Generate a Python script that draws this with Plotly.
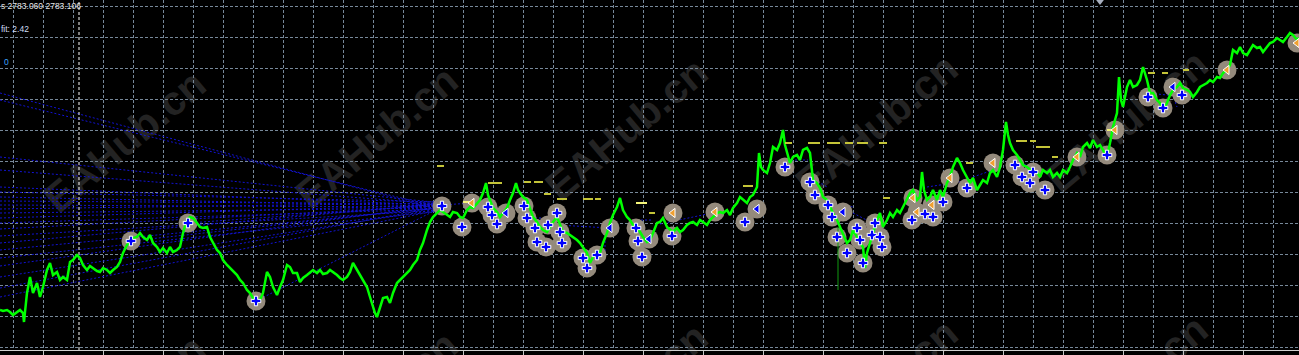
import plotly.graph_objects as go

# ---------------- data (bar index, price level in points above chart floor) ----------------
price_bar = [
    0, 3, 7, 10, 13, 17, 20, 23, 24, 25,
    27, 30, 33, 37, 40, 43, 47, 50, 53, 57,
    60, 63, 67, 70, 73, 77, 80, 83, 87, 90,
    93, 97, 100, 103, 107, 110, 113, 117, 120, 123,
    127, 130, 133, 137, 140, 143, 147, 150, 153, 157,
    160, 163, 167, 170, 173, 177, 180, 183, 187, 190,
    193, 197, 200, 203, 207, 210, 213, 217, 220, 223,
    227, 230, 233, 237, 240, 243, 247, 250, 253, 257,
    260, 263, 267, 270, 273, 277, 280, 283, 287, 290,
    293, 297, 300, 303, 307, 310, 313, 317, 320, 323,
    327, 330, 333, 337, 340, 343, 347, 350, 353, 357,
    360, 363, 367, 370, 373, 375, 377, 380, 383, 387,
    390, 393, 397, 400, 403, 407, 410, 413, 417, 420,
    423, 427, 430, 433, 437, 440, 443, 447, 450, 453,
    457, 460, 463, 467, 470, 473, 477, 480, 483, 486,
    488, 490, 493, 497, 500, 503, 507, 510, 513, 516,
    518, 520, 523, 527, 530, 533, 537, 540, 543, 547,
    550, 553, 557, 560, 563, 567, 570, 573, 577, 580,
    583, 587, 590, 593, 597, 600, 603, 607, 610, 613,
    617, 620, 623, 627, 630, 633, 637, 640, 643, 647,
    650, 653, 657, 660, 663, 667, 670, 673, 677, 680,
    683, 687, 690, 693, 697, 700, 703, 707, 710, 713,
    717, 720, 723, 727, 730, 733, 737, 740, 743, 747,
    750, 753, 757, 759, 761, 763, 767, 770, 773, 777,
    780, 783, 785, 787, 790, 793, 797, 800, 803, 807,
    810, 813, 817, 820, 823, 827, 830, 833, 837, 840,
    843, 847, 850, 853, 857, 860, 863, 865, 867, 870,
    873, 877, 880, 883, 887, 890, 893, 897, 900, 903,
    907, 910, 913, 917, 920, 922, 924, 927, 930, 933,
    937, 940, 943, 947, 950, 953, 957, 960, 963, 967,
    970, 973, 977, 980, 983, 987, 990, 993, 997, 1000,
    1003, 1006, 1008, 1010, 1013, 1017, 1020, 1023, 1027, 1030,
    1033, 1037, 1040, 1043, 1047, 1050, 1053, 1057, 1060, 1063,
    1067, 1070, 1073, 1077, 1080, 1083, 1087, 1090, 1093, 1097,
    1100, 1103, 1107, 1110, 1113, 1117, 1119, 1121, 1123, 1127,
    1130, 1133, 1137, 1140, 1143, 1147, 1150, 1153, 1157, 1160,
    1163, 1167, 1170, 1173, 1177, 1180, 1183, 1187, 1190, 1193,
    1197, 1200, 1203, 1207, 1210, 1213, 1217, 1220, 1223, 1227,
    1230, 1233, 1237, 1240, 1243, 1247, 1250, 1253, 1257, 1260,
    1263, 1267, 1270, 1273, 1277, 1280, 1283, 1287, 1290, 1293,
    1297, 1299,
]
price_level = [
    40, 39, 40, 38, 35, 38, 40, 37, 28, 38,
    57, 73, 57, 67, 53, 63, 80, 87, 75, 78,
    70, 73, 70, 88, 90, 95, 92, 85, 80, 84,
    82, 79, 78, 82, 80, 77, 80, 83, 88, 97,
    105, 108, 112, 113, 117, 113, 110, 115, 107, 103,
    98, 102, 97, 103, 98, 100, 103, 117, 130, 133,
    132, 127, 123, 122, 123, 113, 107, 100, 97, 90,
    85, 82, 78, 75, 70, 67, 60, 57, 52, 48,
    50, 57, 78, 73, 63, 55, 63, 70, 85, 83,
    77, 77, 68, 72, 75, 78, 80, 77, 80, 76,
    77, 80, 78, 75, 72, 70, 73, 78, 87, 80,
    75, 70, 63, 53, 43, 37, 33, 43, 52, 53,
    47, 57, 67, 70, 73, 77, 80, 85, 90, 100,
    107, 120, 128, 133, 137, 140, 138, 135, 133, 138,
    137, 133, 132, 140, 143, 142, 147, 150, 157, 167,
    155, 150, 142, 138, 133, 137, 142, 150, 157, 167,
    160, 157, 153, 150, 142, 133, 128, 123, 120, 118,
    123, 128, 133, 125, 118, 117, 115, 113, 110, 107,
    103, 97, 87, 93, 98, 97, 107, 117, 127, 135,
    143, 152, 140, 133, 130, 125, 123, 118, 113, 108,
    110, 117, 127, 128, 132, 123, 120, 118, 122, 118,
    120, 125, 127, 128, 125, 130, 128, 125, 130, 133,
    137, 138, 137, 140, 135, 142, 147, 153, 150, 147,
    153, 155, 163, 197, 183, 180, 177, 187, 203, 200,
    207, 220, 205, 197, 187, 193, 195, 190, 200, 202,
    197, 170, 167, 162, 153, 150, 143, 137, 130, 123,
    117, 107, 110, 120, 113, 107, 103, 82, 97, 107,
    117, 130, 137, 123, 130, 137, 133, 140, 137, 143,
    150, 157, 160, 150, 153, 178, 160, 150, 153, 160,
    150, 160, 153, 167, 173, 183, 192, 187, 180, 173,
    167, 172, 160, 165, 170, 167, 177, 180, 173, 183,
    200, 228, 215, 207, 200, 195, 190, 185, 183, 180,
    178, 178, 173, 180, 177, 180, 173, 177, 173, 180,
    177, 183, 190, 197, 193, 203, 207, 202, 210, 203,
    205, 200, 193, 207, 223, 237, 273, 250, 243, 263,
    270, 263, 265, 270, 283, 270, 257, 257, 250, 247,
    240, 247, 255, 260, 263, 267, 262, 260, 258, 253,
    258, 263, 265, 267, 270, 268, 273, 272, 277, 280,
    285, 300, 297, 303, 297, 295, 300, 305, 302, 303,
    298, 303, 307, 308, 312, 310, 308, 313, 317, 315,
    310, 312,
]

# trade markers: b = buy arrow, l = left arrow, c = close (orange)
trade_bar = [131, 188, 256, 442, 472, 462, 488, 492, 497, 506, 524, 527, 535, 537, 546, 548,
             557, 560, 562, 583, 587, 597, 610, 636, 638, 649, 642, 673, 672, 715, 745, 757,
             785, 810, 815, 828, 832, 843, 837, 847, 857, 860, 863, 875, 872, 880, 882, 913,
             917, 912, 925, 933, 932, 943, 950, 967, 993, 1015, 1022, 1033, 1030, 1045, 1077,
             1107, 1115, 1148, 1163, 1173, 1182, 1227, 1297]
trade_level = [109, 127, 49, 144, 147, 123, 143, 135, 126, 137, 144, 132, 122, 108, 103, 125,
               137, 118, 107, 92, 82, 95, 122, 122, 109, 111, 93, 137, 114, 138, 128, 141,
               183, 168, 155, 145, 133, 138, 113, 97, 122, 110, 87, 127, 115, 113, 103, 152,
               138, 130, 136, 133, 145, 148, 172, 162, 187, 185, 173, 178, 167, 160, 193,
               195, 220, 253, 242, 263, 255, 280, 307]
trade_kind = ["b", "b", "b", "b", "c", "b", "b", "b", "b", "l", "b", "b", "b", "b", "b", "b",
              "b", "b", "b", "b", "b", "b", "l", "b", "b", "l", "b", "c", "b", "c", "b", "l",
              "b", "b", "b", "b", "b", "l", "b", "b", "b", "b", "b", "b", "b", "b", "b", "c",
              "c", "b", "b", "b", "c", "b", "c", "b", "c", "b", "b", "b", "b", "b", "c",
              "b", "c", "b", "b", "l", "b", "c", "c"]

# short level dashes (start bar, end bar, level)
dash_start = [437, 488, 524, 534, 544, 557, 583, 595, 649, 743, 785, 808, 827, 845, 857, 879,
              883, 966, 1016, 1030, 1036, 1043, 1052, 1148, 1162, 1183]
dash_end = [444, 502, 531, 543, 551, 567, 593, 601, 655, 753, 792, 820, 840, 853, 868, 887,
            890, 973, 1027, 1036, 1043, 1050, 1058, 1155, 1168, 1189]
dash_level = [184, 167, 168, 168, 156, 151, 151, 151, 137, 164, 207, 207, 207, 207, 207, 207,
              152, 187, 209, 209, 203, 203, 193, 277, 277, 280]
bright_start = [463, 636, 1107]
bright_end = [470, 647, 1113]
bright_level = [148, 147, 220]

# fan of order lines coming from the left edge
fan_level = [257, 250, 193, 180, 163, 158, 153, 149, 145, 141, 137, 132, 127, 121, 114, 107,
             100, 92, 84, 73, 62, 53]
fan_end_bar = [440, 438, 442, 440, 437, 441, 439, 443, 440, 436, 442, 438, 441, 439, 444, 437,
               440, 442, 438, 441, 439, 440]
fan_end_level = [140, 143, 147, 146, 145, 148, 144, 146, 143, 147, 142, 145, 141, 144, 140, 146,
                 142, 139, 145, 141, 143, 140]

# open -> close order lines
link_bar0 = [131, 188, 256, 442, 488, 527, 557, 585, 605, 637, 660, 665, 787, 808, 827, 853,
             927, 973, 1017, 1013, 1147, 1107, 1170]
link_lvl0 = [109, 127, 49, 145, 137, 132, 125, 98, 117, 130, 126, 120, 190, 175, 148, 137,
             163, 173, 185, 190, 257, 197, 263]
link_bar1 = [440, 440, 440, 472, 506, 557, 610, 600, 605, 653, 712, 673, 808, 827, 853, 880,
             973, 993, 1040, 1057, 1187, 1115, 1177]
link_lvl1 = [143, 145, 142, 147, 137, 132, 122, 100, 97, 130, 137, 120, 190, 163, 143, 123,
             170, 180, 180, 173, 253, 220, 243]

spike_bar = [838]
spike_low = [60]
spike_high = [123]
separator_bar = [79]
marker_top_bar = [1100]

info_lines = ["s 2783.060 2783.106", "fit: 2.42", "0"]
watermark = "EAHub.cn"

X_MAX = 1299
Y_MAX = 350


def segments(x0s, y0s, x1s, y1s):
    xs, ys = [], []
    for a, b, c, d in zip(x0s, y0s, x1s, y1s):
        xs += [a, c, None]
        ys += [b, d, None]
    return xs, ys


fig = go.Figure()

ORDER_LINE = dict(color="#1212d2", width=1, dash="2px,2px")
fx, fy = segments([0] * len(fan_level), fan_level, fan_end_bar, fan_end_level)
fig.add_trace(go.Scatter(x=fx, y=fy, mode="lines", hoverinfo="skip", line=ORDER_LINE))
lx, ly = segments(link_bar0, link_lvl0, link_bar1, link_lvl1)
fig.add_trace(go.Scatter(x=lx, y=ly, mode="lines", hoverinfo="skip", line=ORDER_LINE))

# separator
sx, sy = segments(separator_bar, [0], separator_bar, [Y_MAX])
fig.add_trace(go.Scatter(x=sx, y=sy, mode="lines", hoverinfo="skip",
                         line=dict(color="#ffffff", width=1, dash="3px,2px")))

# circles under the price line
fig.add_trace(go.Scatter(x=trade_bar, y=trade_level, mode="markers", hoverinfo="skip",
                         marker=dict(size=19, color="#948a7c", line=dict(width=0))))

# price line
fig.add_trace(go.Scatter(x=price_bar, y=price_level, mode="lines", hoverinfo="skip",
                         line=dict(color="#00ff00", width=2.5)))

# stray spike
kx, ky = segments(spike_bar, spike_low, spike_bar, spike_high)
fig.add_trace(go.Scatter(x=kx, y=ky, mode="lines", hoverinfo="skip",
                         line=dict(color="#109a10", width=1)))

# level dashes
dx, dy = segments(dash_start, dash_level, dash_end, dash_level)
fig.add_trace(go.Scatter(x=dx, y=dy, mode="lines", hoverinfo="skip",
                         line=dict(color="#c4c438", width=2)))
bx, by = segments(bright_start, bright_level, bright_end, bright_level)
fig.add_trace(go.Scatter(x=bx, y=by, mode="lines", hoverinfo="skip",
                         line=dict(color="#f5f57a", width=2)))

# icons
for kind, sym, col, sz in [("b", "cross", "#0000ff", 8),
                           ("l", "triangle-left", "#0000ff", 8),
                           ("c", "triangle-left", "#f0a030", 8)]:
    xs = [b for b, k in zip(trade_bar, trade_kind) if k == kind]
    ys = [v for v, k in zip(trade_level, trade_kind) if k == kind]
    fig.add_trace(go.Scatter(x=xs, y=ys, mode="markers", hoverinfo="skip",
                             marker=dict(symbol=sym, size=sz, color=col,
                                         line=dict(color="#ffffff", width=1))))

fig.add_trace(go.Scatter(x=marker_top_bar, y=[Y_MAX - 1], mode="markers", hoverinfo="skip",
                         marker=dict(symbol="triangle-down", size=8, color="#a8b0c0")))

# watermarks (behind everything)
wm_centers = [(122, 138), (374, 134), (624, 126), (874, 122), (1124, 118),
              (122, 403), (374, 399), (624, 391), (874, 387), (1124, 383)]
shapes = []
for cx, cy in wm_centers:
    px, py = cx / X_MAX, 1 - cy / Y_MAX
    shapes.append(dict(type="rect", xref="paper", yref="paper",
                       x0=px - 0.001, x1=px + 0.001, y0=py - 0.001, y1=py + 0.001,
                       line=dict(width=0), fillcolor="rgba(0,0,0,0)", layer="below",
                       label=dict(text=watermark, textangle=-40, textposition="middle center",
                                  font=dict(family="Liberation Sans", size=41, color="#232323",
                                            weight="bold"))))

annotations = [
    dict(text=info_lines[0], x=0, y=1 - 6 / Y_MAX, xshift=-1),
    dict(text=info_lines[1], x=0, y=1 - 29 / Y_MAX, xshift=-1),
    dict(text=info_lines[2], x=0, y=1 - 62 / Y_MAX, xshift=2),
]
colors = ["#e6e6e6", "#cddcf5", "#3aa0ff"]
for a, c in zip(annotations, colors):
    a.update(xref="paper", yref="paper", xanchor="left", yanchor="middle", showarrow=False,
             font=dict(family="Liberation Sans", size=8.5, color=c))

grid = "#778899"
fig.update_layout(
    width=1299, height=355, autosize=False,
    margin=dict(l=0, r=0, t=0, b=5),
    paper_bgcolor="#000000", plot_bgcolor="rgba(0,0,0,0)",
    showlegend=False, shapes=shapes, annotations=annotations,
    xaxis=dict(range=[0, X_MAX], showticklabels=False, zeroline=False,
               tick0=43, dtick=60, ticks="outside", ticklen=5, tickcolor="#c8c8c8",
               showgrid=True, gridcolor=grid, griddash="3px,2px", gridwidth=1,
               minor=dict(tick0=13, dtick=30, showgrid=True, gridcolor=grid,
                          griddash="3px,2px", gridwidth=1, ticks=""),
               showline=True, linecolor="#d0d0d0", linewidth=1),
    yaxis=dict(range=[0, Y_MAX], showticklabels=False, zeroline=False, ticks="",
               tick0=3, dtick=31, showgrid=True, gridcolor=grid, griddash="3px,2px",
               gridwidth=1),
)

fig.write_html("out.html", config={"displayModeBar": False})
